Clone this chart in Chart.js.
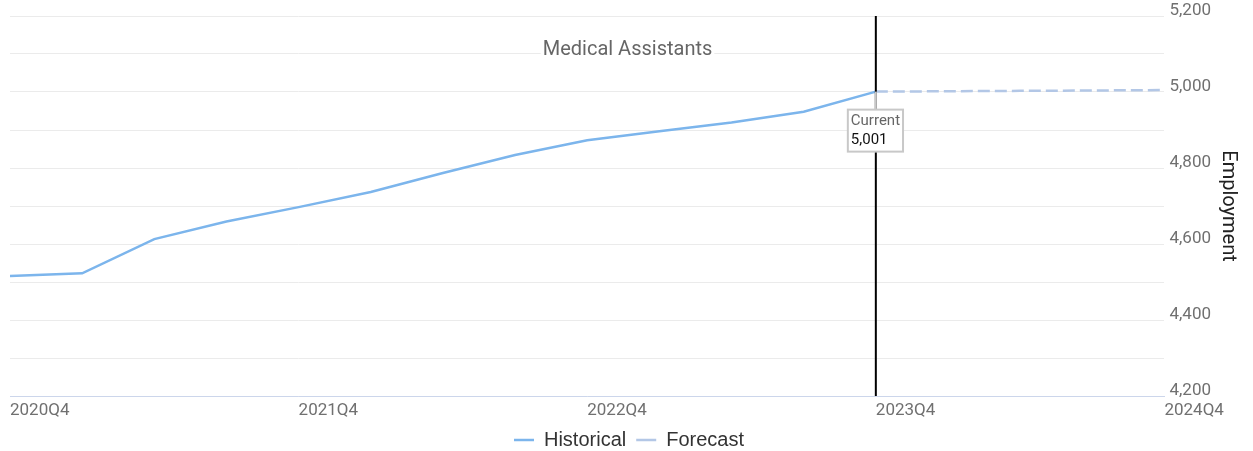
<!DOCTYPE html>
<html>
<head>
<meta charset="utf-8">
<script src="https://cdn.jsdelivr.net/npm/chart.js@4.4.1/dist/chart.umd.min.js"></script>
<style>
  html, body { margin: 0; padding: 0; background: #fff; }
  #wrap { width: 1253px; height: 451px; position: relative; }
</style>
</head>
<body>
<div id="wrap"><canvas id="c"></canvas></div>
<script>
const chartTitle = 'Medical Assistants';
const quarters = ['2020Q4','2021Q1','2021Q2','2021Q3','2021Q4','2022Q1','2022Q2','2022Q3','2022Q4',
                  '2023Q1','2023Q2','2023Q3','2023Q4','2024Q1','2024Q2','2024Q3','2024Q4'];
const historical = [4516, 4523, 4613, 4659, 4697, 4737, 4787, 4834, 4873, 4897, 4920, 4948, 5001,
                    null, null, null, null];
const forecast = [null, null, null, null, null, null, null, null, null, null, null, null, 5001,
                  5002, 5003, 5004, 5005];
const currentQuarter = '2023Q4';
const currentValue = 5001;
const yMin = 4200, yMax = 5200, yStep = 100;

const fmt = v => Number(v).toLocaleString('en-US');

const overlayPlugin = {
  id: 'overlay',
  afterDatasetsDraw(chart) {
    const ctx = chart.ctx;
    const xs = chart.scales.x, ys = chart.scales.y;
    const area = chart.chartArea;
    // title inside plot
    ctx.save();
    ctx.font = '20px Roboto';
    const tw = ctx.measureText(chartTitle).width;
    const tx = chart.width / 2 + 1, ty = area.top + 34;
    ctx.fillStyle = '#fff';
    ctx.fillRect(tx - tw / 2 - 2, ty - 12, tw + 4, 24);
    ctx.fillStyle = '#666';
    ctx.textAlign = 'center';
    ctx.textBaseline = 'middle';
    ctx.fillText(chartTitle, tx, ty);
    ctx.restore();

    // current marker
    const px = xs.getPixelForValue(quarters.indexOf(currentQuarter));
    const py = ys.getPixelForValue(currentValue);
    ctx.save();
    ctx.strokeStyle = '#000';
    ctx.lineWidth = 2;
    ctx.beginPath();
    ctx.moveTo(px, area.top);
    ctx.lineTo(px, area.bottom);
    ctx.stroke();

    ctx.font = '15px Roboto';
    const l1 = 'Current', l2 = fmt(currentValue);
    const bw = Math.max(ctx.measureText(l1).width, ctx.measureText(l2).width) + 6;
    const bx = px - 28, by = py + 18, bh = 42;
    ctx.strokeStyle = '#c8c8c8';
    ctx.lineWidth = 2;
    ctx.beginPath();
    ctx.moveTo(px, py);
    ctx.lineTo(px, by);
    ctx.stroke();
    ctx.fillStyle = '#fff';
    ctx.fillRect(bx, by, bw, bh);
    ctx.strokeRect(bx, by, bw, bh);
    ctx.textAlign = 'left';
    ctx.textBaseline = 'middle';
    ctx.fillStyle = '#666';
    ctx.fillText(l1, bx + 3, by + 12);
    ctx.fillStyle = '#111';
    ctx.fillText(l2, bx + 3, by + 31);
    ctx.restore();
  }
};

new Chart(document.getElementById('c'), {
  type: 'line',
  data: {
    labels: quarters,
    datasets: [
      {
        label: 'Historical',
        data: historical,
        borderColor: '#7cb5ec',
        backgroundColor: '#7cb5ec',
        borderWidth: 2.5,
        pointRadius: 0,
        pointHoverRadius: 0,
        pointStyle: 'line',
        tension: 0,
        spanGaps: false
      },
      {
        label: 'Forecast',
        data: forecast,
        borderColor: '#b3c7e6',
        backgroundColor: '#b3c7e6',
        borderWidth: 2.5,
        borderDash: [12, 5],
        pointRadius: 0,
        pointHoverRadius: 0,
        pointStyle: 'line',
        tension: 0
      }
    ]
  },
  options: {
    responsive: true,
    maintainAspectRatio: false,
    animation: false,
    layout: { padding: { left: 10, right: 5, top: 16, bottom: -9 } },
    plugins: {
      legend: {
        position: 'bottom',
        labels: {
          usePointStyle: true,
          pointStyleWidth: 20,
          boxWidth: 12,
          padding: 10,
          color: '#333',
          font: { family: '"Liberation Sans", Arial, sans-serif', size: 20 }
        }
      },
      tooltip: { enabled: false },
      title: { display: false }
    },
    scales: {
      x: {
        type: 'category',
        offset: false,
        grid: { display: false, drawTicks: false },
        border: { display: true, color: '#ccd6eb', width: 1 },
        afterFit: s => { s.height = 24; },
        ticks: {
          autoSkip: false,
          maxRotation: 0,
          minRotation: 0,
          align: 'start',
          padding: 5,
          color: '#707070',
          font: { family: 'Roboto', size: 17 },
          callback: function(v, i) { const l = quarters[i]; return l.endsWith('Q4') ? l : ''; }
        }
      },
      y: {
        position: 'right',
        min: yMin,
        max: yMax,
        grid: { color: '#ebebeb', lineWidth: 1, drawTicks: false },
        border: { display: false },
        ticks: {
          stepSize: yStep,
          padding: 5,
          labelOffset: -5,
          color: '#707070',
          font: { family: 'Roboto', size: 17 },
          callback: v => (v % 200 === 0 ? fmt(v) : '')
        },
        title: {
          display: true,
          text: 'Employment',
          color: '#222',
          font: { family: 'Roboto', size: 20 },
          padding: { top: 8, bottom: 0 }
        }
      }
    }
  },
  plugins: [overlayPlugin]
});
</script>
</body>
</html>
